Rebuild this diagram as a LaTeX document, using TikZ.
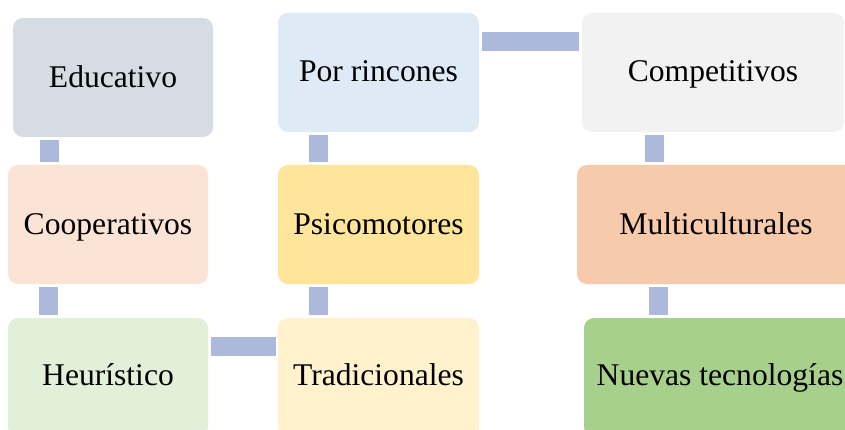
\documentclass[tikz,border=0pt]{standalone}
\usepackage{fontspec}
\setmainfont{Liberation Serif}
\usetikzlibrary{calc}
\definecolor{cEdu}{HTML}{D5DCE4}
\definecolor{cCoop}{HTML}{FBE4D5}
\definecolor{cHeur}{HTML}{E2EFD9}
\definecolor{cPor}{HTML}{DEEAF6}
\definecolor{cPsi}{HTML}{FFE599}
\definecolor{cTrad}{HTML}{FFF2CC}
\definecolor{cComp}{HTML}{F2F2F2}
\definecolor{cMulti}{HTML}{F7CAAC}
\definecolor{cNuev}{HTML}{A8D08D}
\definecolor{cConn}{HTML}{ADB9DB}
\tikzset{
  box/.style={rounded corners=10pt, minimum height=119pt, inner sep=0pt,
    font=\fontsize{31.6}{36}\selectfont, text=black,
    text height=21pt, text depth=0pt},
  lowrow/.style={text height=15pt},
  toprow/.style={text height=19pt},
  conn/.style={draw=cConn, line width=19pt, line cap=butt}
}
\begin{document}
\begin{tikzpicture}[x=1pt,y=-1pt]
\useasboundingbox (0,0) rectangle (845,430);
\clip (0,0) rectangle (845,430);
\fill[white] (0,0) rectangle (845,430);
\node[box, fill=cEdu, minimum width=200pt] (edu) at (113,77.5) {Educativo};
\node[box, fill=cCoop, minimum width=200pt] (coop) at (108,224.5) {Cooperativos};
\node[box, lowrow, fill=cHeur, minimum width=200pt] (heur) at (108,377.5) {Heurístico};
\node[box, toprow, fill=cPor, minimum width=201pt] (por) at (378.5,72.5) {Por rincones};
\node[box, fill=cPsi, minimum width=201pt] (psi) at (378.5,224.5) {Psicomotores};
\node[box, lowrow, fill=cTrad, minimum width=201pt] (trad) at (378.5,377.5) {Tradicionales};
\node[box, toprow, fill=cComp, minimum width=262pt] (comp) at (713,72.5) {Competitivos};
\node[box, fill=cMulti, minimum width=278pt] (multi) at (716,224.5) {Multiculturales};
\node[box, lowrow, fill=cNuev, minimum width=272pt] (nuev) at (720,377.5) {Nuevas tecnologías};
% connectors
\draw[conn] ([shift={(-63.5,3)}]edu.south) -- ([shift={(-63.5,-3)}]edu.south |- coop.north);
\draw[conn] ([shift={(-59.5,3)}]coop.south) -- ([shift={(-59.5,-3)}]coop.south |- heur.north);
\draw[conn] ([shift={(3,-31)}]heur.east) -- ([shift={(-2,-31)}]heur.east -| trad.west);
\draw[conn] ([shift={(-60,3)}]por.south) -- ([shift={(-60,-3)}]por.south |- psi.north);
\draw[conn] ([shift={(-60,3)}]psi.south) -- ([shift={(-60,-3)}]psi.south |- trad.north);
\draw[conn] ([shift={(3,-31)}]por.east) -- ([shift={(-3,-31)}]por.east -| comp.west);
\draw[conn] ([shift={(-58.5,3)}]comp.south) -- ([shift={(-58.5,-3)}]comp.south |- multi.north);
\draw[conn] ([shift={(-57.5,3)}]multi.south) -- ([shift={(-57.5,-3)}]multi.south |- nuev.north);
\end{tikzpicture}
\end{document}
